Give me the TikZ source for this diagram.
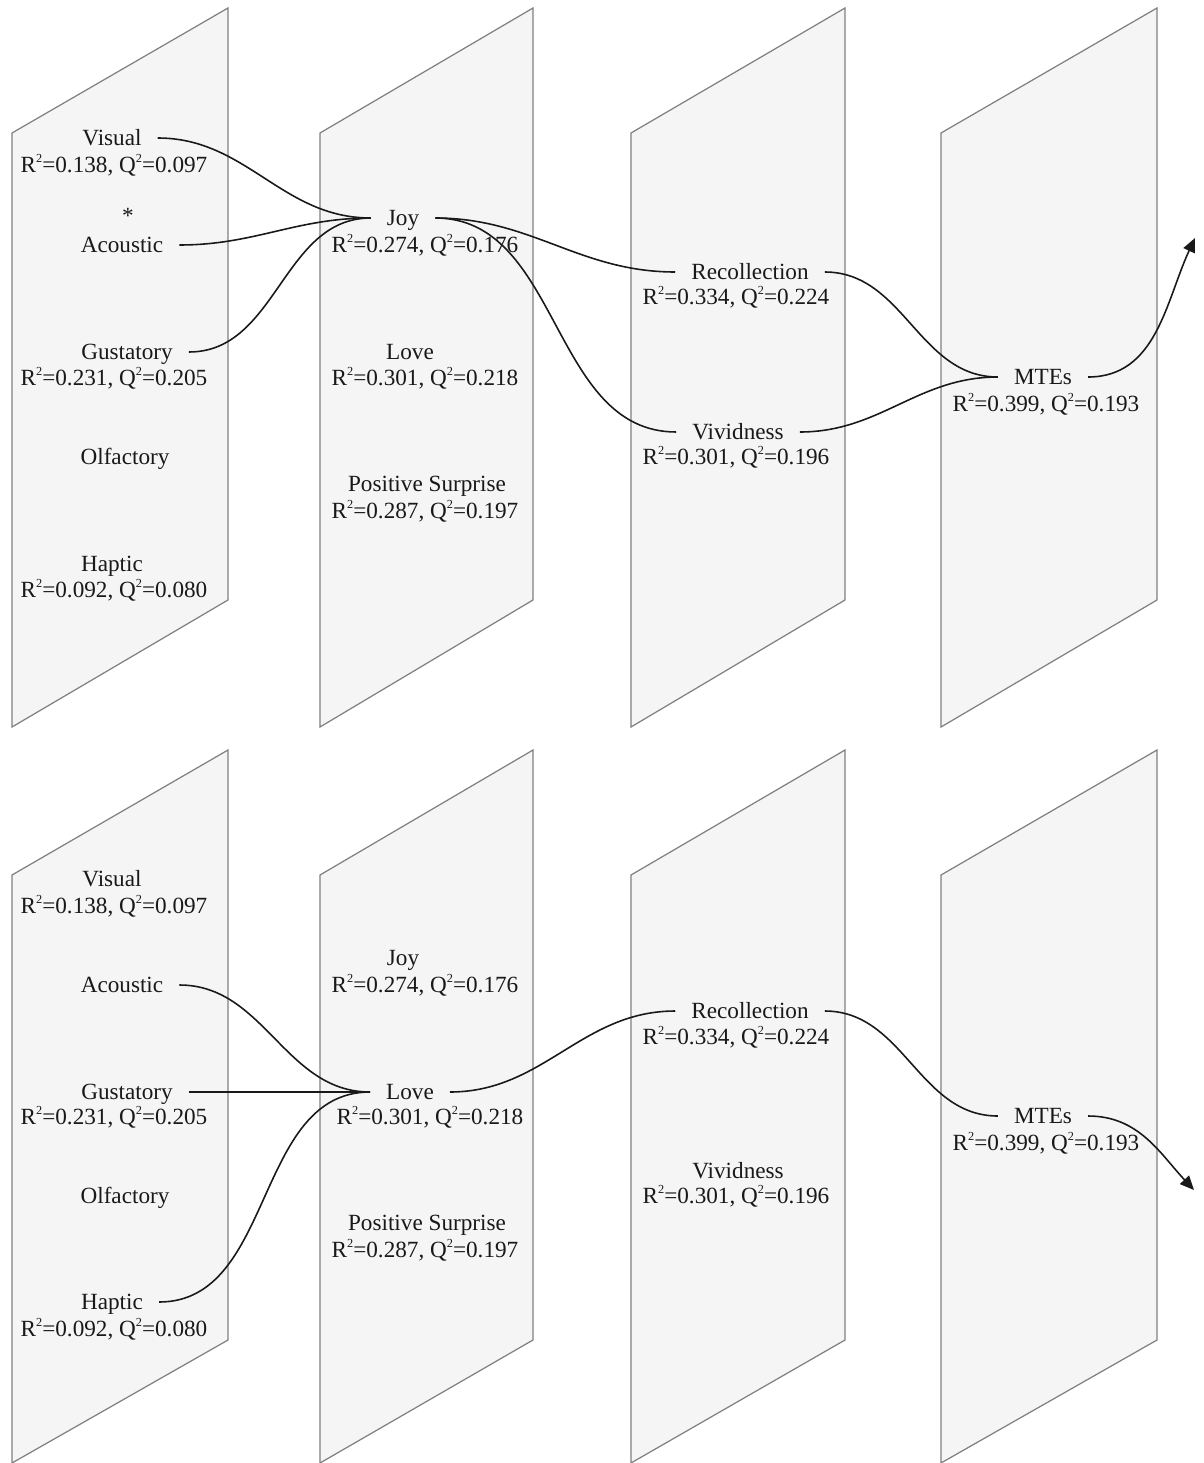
\documentclass[tikz,border=0pt]{standalone}
\usepackage{fontspec}
\setmainfont{Liberation Serif}
\usetikzlibrary{arrows.meta}
\newcommand{\sqr}{\raisebox{0.42em}{\fontsize{7pt}{7pt}\selectfont 2}}
\newcommand{\rqstat}[2]{R\sqr=#1, Q\sqr=#2}

\begin{document}
\begin{tikzpicture}[x=0.02cm,y=-0.02cm]
    \definecolor{panelfill}{RGB}{245,245,245}
    \definecolor{paneledge}{RGB}{128,128,128}
    \definecolor{inkgray}{RGB}{25,25,25}

    \fontsize{13.2pt}{15pt}\selectfont  % font size
    \tikzstyle{panel}=[draw=paneledge,fill=panelfill,line width=0.7pt]  % the slanted planes
    \tikzstyle{construct}=[inner xsep=9pt,inner ysep=0pt,text height=8.7pt,text depth=0pt,text=inkgray]
    \tikzstyle{statline}=[inner sep=0pt,text height=8.7pt,text depth=0pt,text=inkgray]
    \tikzstyle{link}=[draw=inkgray,line width=0.9pt,out=0,in=180]  % S-shaped connectors
    \tikzstyle{point}=[coordinate]  % free end of the output arrows

    \useasboundingbox (0,0) rectangle (1203,1463);

    % draw the planes, upper and lower row
    \foreach \l/\r in {12/228,320/533,631/845,941/1157}{
        \draw[panel] (\l,133) -- (\r,8) -- (\r,600) -- (\l,727) -- cycle;
        \draw[panel] (\l,875) -- (\r,750) -- (\r,1340) -- (\l,1463) -- cycle;
    }

    % upper row: senses
    \node[construct] (vis) at (112,138) {Visual};
    \node[statline] (visR) at (114,165) {\rqstat{0.138}{0.097}};
    \node[statline] (ast) at (128,216) {*};
    \node[construct] (aco) at (122,245) {Acoustic};
    \node[construct] (gus) at (127,352) {Gustatory};
    \node[statline] (gusR) at (114,378) {\rqstat{0.231}{0.205}};
    \node[construct] (olf) at (125,457) {Olfactory};
    \node[construct] (hap) at (112,564) {Haptic};
    \node[statline] (hapR) at (114,590) {\rqstat{0.092}{0.080}};
    % upper row: emotions
    \node[construct] (joy) at (403,218) {Joy};
    \node[statline] (joyR) at (425,245) {\rqstat{0.274}{0.176}};
    \node[construct] (love) at (410,352) {Love};
    \node[statline] (loveR) at (425,378) {\rqstat{0.301}{0.218}};
    \node[construct] (pos) at (427,484) {Positive Surprise};
    \node[statline] (posR) at (425,511) {\rqstat{0.287}{0.197}};
    % upper row: memory
    \node[construct] (rec) at (750,272) {Recollection};
    \node[statline] (recR) at (736,297) {\rqstat{0.334}{0.224}};
    \node[construct] (viv) at (738,432) {Vividness};
    \node[statline] (vivR) at (736,457) {\rqstat{0.301}{0.196}};
    % upper row: outcome
    \node[construct] (mte) at (1043,377) {MTEs};
    \node[statline] (mteR) at (1046,404) {\rqstat{0.399}{0.193}};
    \node[point] (outA) at (1195,238) {};

    % lower row: senses
    \node[construct] (visb) at (112,879) {Visual};
    \node[statline] (visbR) at (114,906) {\rqstat{0.138}{0.097}};
    \node[construct] (acob) at (122,985) {Acoustic};
    \node[construct] (gusb) at (127,1092) {Gustatory};
    \node[statline] (gusbR) at (114,1117) {\rqstat{0.231}{0.205}};
    \node[construct] (olfb) at (125,1196) {Olfactory};
    \node[construct] (hapb) at (112,1302) {Haptic};
    \node[statline] (hapbR) at (114,1329) {\rqstat{0.092}{0.080}};
    % lower row: emotions
    \node[construct] (joyb) at (403,958) {Joy};
    \node[statline] (joybR) at (425,985) {\rqstat{0.274}{0.176}};
    \node[construct] (loveb) at (410,1092) {Love};
    \node[statline] (lovebR) at (430,1117) {\rqstat{0.301}{0.218}};
    \node[construct] (posb) at (427,1223) {Positive Surprise};
    \node[statline] (posbR) at (425,1250) {\rqstat{0.287}{0.197}};
    % lower row: memory
    \node[construct] (recb) at (750,1011) {Recollection};
    \node[statline] (recbR) at (736,1037) {\rqstat{0.334}{0.224}};
    \node[construct] (vivb) at (738,1171) {Vividness};
    \node[statline] (vivbR) at (736,1196) {\rqstat{0.301}{0.196}};
    % lower row: outcome
    \node[construct] (mteb) at (1043,1116) {MTEs};
    \node[statline] (mtebR) at (1046,1143) {\rqstat{0.399}{0.193}};
    \node[point] (outB) at (1194,1190) {};

    % upper row connectors
    \draw[link] (vis.east) to (joy.west);
    \draw[link] (aco.east) to (joy.west);
    \draw[link] (gus.east) to (joy.west);
    \draw[link] (joy.east) to (rec.west);
    \draw[link] (joy.east) to (viv.west);
    \draw[link] (rec.east) to (mte.west);
    \draw[link] (viv.east) to (mte.west);
    \draw[link,-{Triangle[length=8pt,width=7pt]},in=-115] (mte.east) to (outA);

    % lower row connectors
    \draw[link] (acob.east) to (loveb.west);
    \draw[link] (gusb.east) to (loveb.west);
    \draw[link] (hapb.east) to (loveb.west);
    \draw[link] (loveb.east) to (recb.west);
    \draw[link] (recb.east) to (mteb.west);
    \draw[link,-{Triangle[length=8pt,width=7pt]},in=133] (mteb.east) to (outB);
\end{tikzpicture}
\end{document}
